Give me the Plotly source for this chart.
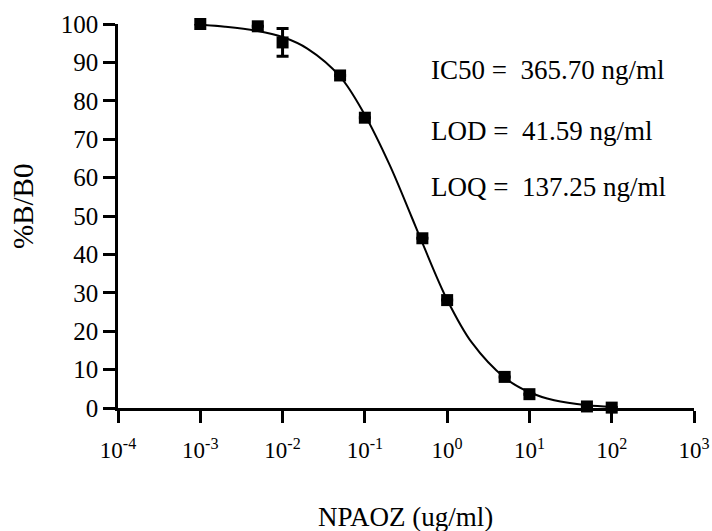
import plotly.graph_objects as go

# Measured data (concentration in ug/ml, %B/B0)
conc = [0.001, 0.005, 0.01, 0.05, 0.1, 0.5, 1, 5, 10, 50, 100]
pct_b_b0 = [100.0, 99.4, 95.2, 86.6, 75.6, 44.2, 28.1, 8.1, 3.6, 0.4, 0.1]
err = [None, None, 3.6, None, None, None, None, None, None, None, None]

# Fitted curve
curve_x = [0.001, 0.002, 0.005, 0.01, 0.02, 0.05, 0.1, 0.2, 0.366, 0.5, 1, 2, 5, 10, 20, 50, 100]
curve_y = [99.8, 99.3, 98.2, 96.6, 93.6, 86.3, 76.3, 63.3, 50.0, 43.0, 28.2, 17.0, 7.9, 4.1, 2.0, 0.7, 0.3]

xtick_vals = [1e-4, 1e-3, 1e-2, 1e-1, 1e0, 1e1, 1e2, 1e3]
xtick_text = ["10<sup>-4</sup>", "10<sup>-3</sup>", "10<sup>-2</sup>", "10<sup>-1</sup>",
              "10<sup>0</sup>", "10<sup>1</sup>", "10<sup>2</sup>", "10<sup>3</sup>"]
ytick_vals = [0, 10, 20, 30, 40, 50, 60, 70, 80, 90, 100]
ytick_text = [str(v) for v in ytick_vals]

stats = ["IC50 =\u00a0 365.70 ng/ml", "LOD =\u00a0 41.59 ng/ml", "LOQ =\u00a0 137.25 ng/ml"]
stats_y = [0.880, 0.722, 0.576]

FONT = "Liberation Serif"

fig = go.Figure()
fig.add_trace(go.Scatter(
    x=curve_x, y=curve_y, mode="lines", line=dict(color="black", width=2, shape="spline"),
    cliponaxis=False, showlegend=False, hoverinfo="skip"))
fig.add_trace(go.Scatter(
    x=conc, y=pct_b_b0, mode="markers",
    marker=dict(symbol="square", size=12, color="black"),
    error_y=dict(type="data", array=err, visible=True, color="black", thickness=3, width=6),
    cliponaxis=False, showlegend=False))

for t, yy in zip(stats, stats_y):
    fig.add_annotation(text=t, xref="paper", yref="paper", x=0.540, y=yy,
                       xanchor="left", yanchor="middle", showarrow=False,
                       font=dict(family=FONT, size=27, color="black"))

fig.add_annotation(text="NPAOZ (ug/ml)", xref="paper", yref="paper", x=0.499, y=-0.285,
                   xanchor="center", yanchor="middle", showarrow=False,
                   font=dict(family=FONT, size=27, color="black"))
fig.add_annotation(text="%B/B0", xref="paper", yref="paper", x=-0.165, y=0.526,
                   xanchor="center", yanchor="middle", showarrow=False, textangle=-90,
                   font=dict(family=FONT, size=29, color="black"))

fig.update_layout(
    template="none",
    width=712, height=531,
    margin=dict(l=118, r=18, t=24, b=123, autoexpand=False),
    paper_bgcolor="white", plot_bgcolor="white",
    font=dict(family=FONT, color="black", size=25),
    xaxis=dict(type="log", range=[-4, 3], tickvals=xtick_vals, ticktext=xtick_text,
               showline=True, linecolor="black", linewidth=2.5, automargin=False,
               ticks="outside", ticklen=12, tickwidth=2.5, tickcolor="black",
               ticklabelstandoff=8,
               showgrid=False, zeroline=False,
               tickfont=dict(size=23, family=FONT, color="black")),
    yaxis=dict(range=[0, 100], tickvals=ytick_vals, ticktext=ytick_text, automargin=False,
               showline=True, linecolor="black", linewidth=2.5,
               ticks="outside", ticklen=12, tickwidth=2.5, tickcolor="black",
               showgrid=False, zeroline=False,
               tickfont=dict(size=25, family=FONT, color="black")),
)

fig.write_html("out.html", config={"displayModeBar": False},
               post_script="document.body.style.margin='0';")
